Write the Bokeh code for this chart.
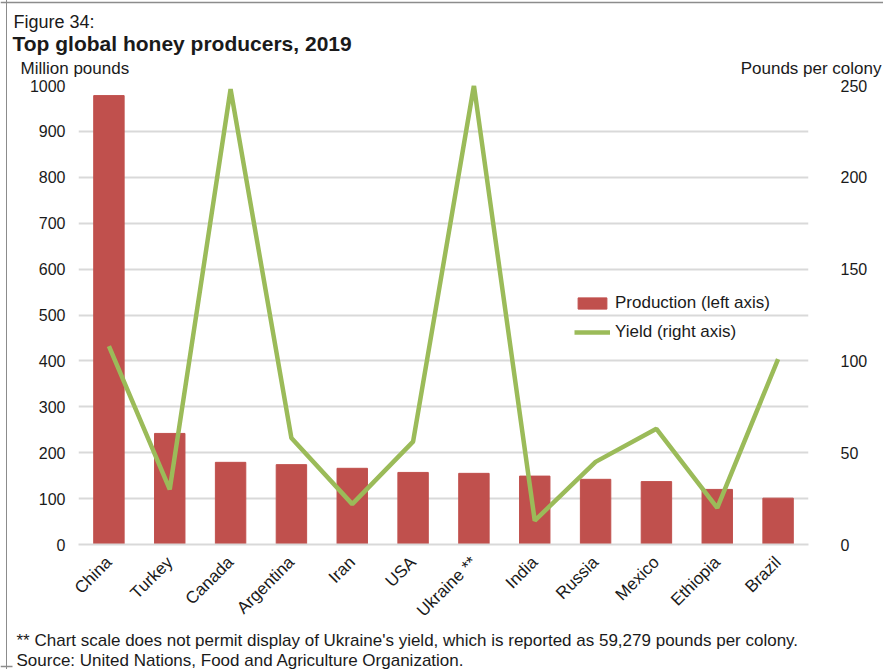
import math
from bokeh.plotting import figure
from bokeh.layouts import column
from bokeh.models import (FactorRange, Range1d, LinearAxis, Legend, LegendItem,
                          FixedTicker, ColumnDataSource)
from bokeh.core.properties import value
from bokeh.embed import file_html
from bokeh.resources import INLINE

categories = ["China", "Turkey", "Canada", "Argentina", "Iran", "USA", "Ukraine **",
              "India", "Russia", "Mexico", "Ethiopia", "Brazil"]
production = [978, 242, 179, 174, 166, 157, 155, 149, 142, 137, 120, 101]
yield_lbs = [108, 30, 248, 58, 22, 56, 250, 13, 45, 63, 20, 101]
left_ticks = [0, 100, 200, 300, 400, 500, 600, 700, 800, 900, 1000]
right_ticks = [0, 50, 100, 150, 200, 250]

W, H = 883, 669
HEAD = 78           # header strip height
TOPPAD = 7          # main figure border above frame
BOTPAD = 88         # main figure border below frame
FL, FR, FT, FB = 78, 808, 85, 544
FOOT_TOP = FB + BOTPAD
FONT = "Liberation Sans"
BAR = "#c0504d"
LINE = "#9bbb59"
GRID = "#d9d9d9"
TXT = "#1a1a1a"
BORDER = "#8c8c8c"
TSHIFT = 4.5        # text glyphs render a little below their baseline coordinate


def strip(y0, y1):
    f = figure(width=W, height=y1 - y0, x_range=Range1d(0, W), y_range=Range1d(y1, y0),
               output_backend="svg", toolbar_location=None, min_border=0)
    f.axis.visible = False
    f.grid.visible = False
    f.outline_line_color = None
    f.background_fill_alpha = 0
    f.border_fill_alpha = 0
    f.frame_align = False
    return f


def txt(f, s, x, y, size, bold=False, align="left"):
    f.text(x=[x], y=[y - TSHIFT], text=[s], text_font=value(FONT), text_font_size=size,
           text_font_style="bold" if bold else "normal", text_color=TXT,
           text_align=align, text_baseline="alphabetic")


# ---- header
head = strip(0, HEAD)
head.segment(x0=[0], y0=[2], x1=[W], y1=[2], line_color=BORDER, line_width=1.5)
txt(head, "Figure 34:", 13, 26, "18px")
txt(head, "Top global honey producers, 2019", 12, 47, "21px", bold=True)
txt(head, "Million pounds", 20, 72, "17px")
txt(head, "Pounds per colony", 881, 72, "17px", align="right")

# ---- main chart
src = ColumnDataSource(dict(cat=categories, prod=production, yld=yield_lbs))
p = figure(width=W, height=TOPPAD + (FB - FT) + BOTPAD,
           x_range=FactorRange(*categories, range_padding=0),
           y_range=Range1d(0, 1000), output_backend="svg", toolbar_location=None,
           min_border_left=FL, min_border_right=W - FR, min_border_top=TOPPAD,
           min_border_bottom=BOTPAD)
p.frame_align = False
p.outline_line_color = None
p.background_fill_color = "white"
p.border_fill_alpha = 0
p.extra_y_ranges = {"right": Range1d(0, 250)}

bars = p.vbar(x="cat", top="prod", width=0.5, source=src, color=BAR)
ln = p.line(x="cat", y="yld", source=src, y_range_name="right", line_color=LINE,
            line_width=4.5)

p.xgrid.visible = False
p.ygrid.grid_line_color = GRID
p.ygrid.grid_line_width = 2
p.yaxis.ticker = FixedTicker(ticks=left_ticks)

la = p.yaxis[0]
ra = LinearAxis(y_range_name="right", ticker=FixedTicker(ticks=right_ticks))
p.add_layout(ra, "right")
for ax in [la, ra]:
    ax.axis_line_color = None
    ax.major_tick_line_color = None
    ax.minor_tick_line_color = None
    ax.major_label_text_font = FONT
    ax.major_label_text_font_size = "16px"
    ax.major_label_text_color = TXT
la.major_label_standoff = 7
ra.major_label_standoff = 26

xa = p.xaxis[0]
xa.axis_line_color = GRID
xa.axis_line_width = 2
xa.major_tick_line_color = None
xa.minor_tick_line_color = None
xa.major_label_orientation = math.pi / 4
xa.major_label_text_font = FONT
xa.major_label_text_font_size = "17px"
xa.major_label_text_color = TXT
xa.major_label_standoff = 9

legend = Legend(items=[LegendItem(label="Production (left axis)", renderers=[bars]),
                       LegendItem(label="Yield (right axis)", renderers=[ln])],
                location=(496, 202), orientation="vertical")
legend.background_fill_alpha = 0
legend.border_line_color = None
legend.padding = 0
legend.margin = 0
legend.spacing = 9
legend.glyph_width = 36
legend.glyph_height = 14
legend.label_height = 20
legend.label_standoff = 5
legend.label_text_font = FONT
legend.label_text_font_size = "17px"
legend.label_text_color = TXT
p.add_layout(legend, "center")

# ---- footer
foot = strip(FOOT_TOP, H)
foot.segment(x0=[0], y0=[H - 3], x1=[12], y1=[H - 3], line_color=BORDER, line_width=1.5)
txt(foot, "** Chart scale does not permit display of Ukraine's yield, which is reported as 59,279 pounds per colony.",
    16, 644, "17px")
txt(foot, "Source:  United Nations, Food and Agriculture Organization.", 16, 664, "17px")

layout = column(head, p, foot, spacing=0)
layout.styles = {"background": "linear-gradient(to right, rgba(255,255,255,0) 6px, #8c8c8c 6px, "
                               "#8c8c8c 7.5px, rgba(255,255,255,0) 7.5px)"}
open("out.html", "w").write(file_html(layout, INLINE))
